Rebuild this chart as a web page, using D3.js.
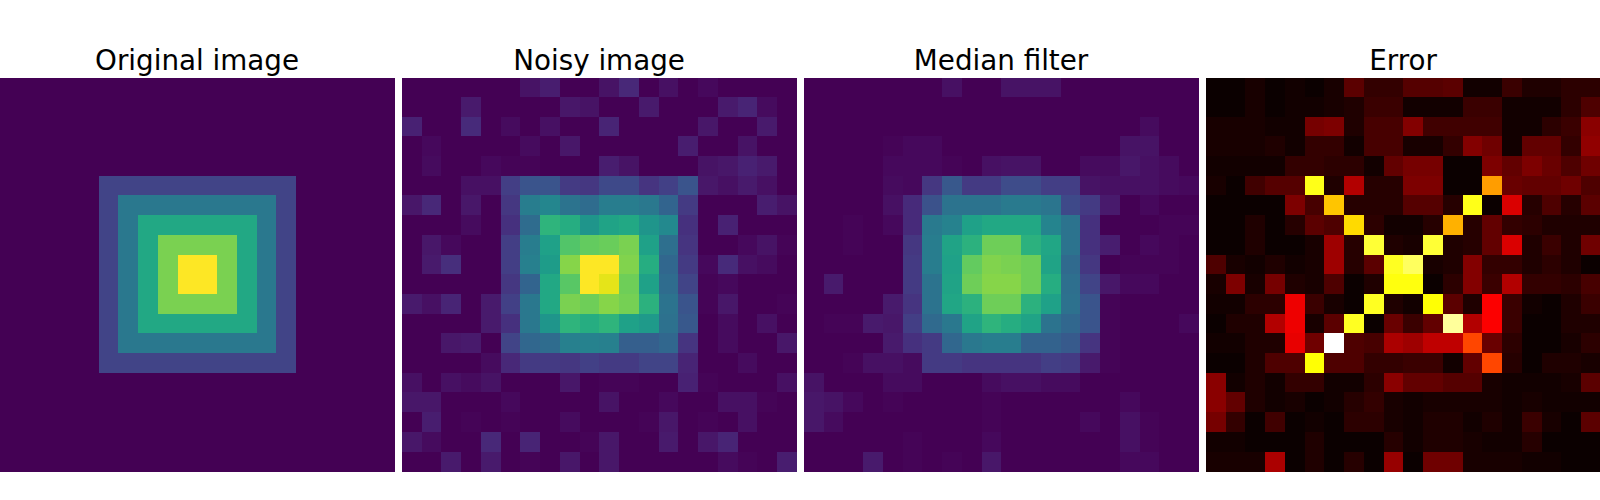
<!DOCTYPE html>
<html><head><meta charset="utf-8">
<script src="https://cdn.jsdelivr.net/npm/d3@7"></script>
<style>html,body{margin:0;padding:0;background:#fff;overflow:hidden}svg{display:block}</style>
</head><body><svg id="c" width="1600" height="500"></svg>
<script>
const titles = ["Original image","Noisy image","Median filter","Error"];
const original = [
[0,0,0,0,0,0,0,0,0,0,0,0,0,0,0,0,0,0,0,0],
[0,0,0,0,0,0,0,0,0,0,0,0,0,0,0,0,0,0,0,0],
[0,0,0,0,0,0,0,0,0,0,0,0,0,0,0,0,0,0,0,0],
[0,0,0,0,0,0,0,0,0,0,0,0,0,0,0,0,0,0,0,0],
[0,0,0,0,0,0,0,0,0,0,0,0,0,0,0,0,0,0,0,0],
[0,0,0,0,0,20,20,20,20,20,20,20,20,20,20,0,0,0,0,0],
[0,0,0,0,0,20,40,40,40,40,40,40,40,40,20,0,0,0,0,0],
[0,0,0,0,0,20,40,60,60,60,60,60,60,40,20,0,0,0,0,0],
[0,0,0,0,0,20,40,60,80,80,80,80,60,40,20,0,0,0,0,0],
[0,0,0,0,0,20,40,60,80,100,100,80,60,40,20,0,0,0,0,0],
[0,0,0,0,0,20,40,60,80,100,100,80,60,40,20,0,0,0,0,0],
[0,0,0,0,0,20,40,60,80,80,80,80,60,40,20,0,0,0,0,0],
[0,0,0,0,0,20,40,60,60,60,60,60,60,40,20,0,0,0,0,0],
[0,0,0,0,0,20,40,40,40,40,40,40,40,40,20,0,0,0,0,0],
[0,0,0,0,0,20,20,20,20,20,20,20,20,20,20,0,0,0,0,0],
[0,0,0,0,0,0,0,0,0,0,0,0,0,0,0,0,0,0,0,0],
[0,0,0,0,0,0,0,0,0,0,0,0,0,0,0,0,0,0,0,0],
[0,0,0,0,0,0,0,0,0,0,0,0,0,0,0,0,0,0,0,0],
[0,0,0,0,0,0,0,0,0,0,0,0,0,0,0,0,0,0,0,0],
[0,0,0,0,0,0,0,0,0,0,0,0,0,0,0,0,0,0,0,0]];
const noisy = [
[0,0,0,0,0,0,5,8,0,0,5,11,0,4,0,2,0,0,0,0],
[0,0,0,7,0,0,0,0,6,5,0,0,7,0,0,0,7,10,3,0],
[9,0,0,12,0,3,0,4,0,0,10,0,0,0,0,6,0,0,7,0],
[0,2,0,0,0,0,3,0,6,0,0,0,0,0,8,0,0,5,0,0],
[0,3,0,0,2,1,1,0,0,0,8,5,0,0,0,5,6,9,7,0],
[0,0,0,4,4,18,26,26,17,16,22,22,15,19,26,6,4,7,4,0],
[6,11,0,6,0,16,42,46,38,35,42,42,40,32,17,0,0,0,8,5],
[0,0,0,3,0,14,35,65,62,52,58,60,52,47,14,0,9,0,0,0],
[0,6,2,0,0,18,42,57,73,76,77,80,57,36,15,0,0,2,5,1],
[0,7,13,0,0,18,43,55,82,100,100,81,62,33,17,2,12,4,3,0],
[0,0,0,0,0,16,32,60,74,100,96,78,57,35,20,1,2,0,0,0],
[7,4,10,0,7,19,40,60,80,78,82,79,64,38,26,1,6,0,0,1],
[0,0,0,0,7,14,40,52,65,62,65,57,54,37,27,0,3,0,4,0],
[0,0,6,7,0,20,33,35,43,44,43,30,30,33,15,0,3,0,0,6],
[0,0,0,0,3,11,17,17,16,19,17,17,20,20,10,0,0,3,0,0],
[4,0,4,3,5,0,0,0,6,0,1,1,0,0,9,1,0,0,0,4],
[6,6,0,0,0,2,0,0,0,0,5,0,0,2,0,0,4,4,1,0],
[0,8,0,1,0,1,0,0,3,0,0,0,1,6,0,1,0,4,0,0],
[6,3,0,0,11,0,10,0,0,1,6,0,0,7,0,6,10,0,0,0],
[0,0,7,0,7,0,1,0,6,0,6,0,0,0,0,0,3,1,0,8]];
const median = [
[0,0,0,0,0,0,0,4,0,0,5,5,5,0,0,0,0,0,0,0],
[0,0,0,0,0,0,0,0,0,0,0,0,0,0,0,0,0,0,0,0],
[0,0,0,0,0,0,0,0,0,0,0,0,0,0,0,0,0,3,0,0],
[0,0,0,0,1,2,2,0,0,0,0,0,0,0,0,0,5,5,0,0],
[0,0,0,0,2,2,2,1,0,4,5,5,0,0,3,3,6,4,3,0],
[0,0,0,0,3,2,16,27,17,17,23,23,18,18,5,4,4,4,3,2],
[0,0,0,0,4,12,25,38,38,38,41,41,39,22,17,7,0,2,0,0],
[0,0,1,0,2,12,41,44,57,60,60,60,45,38,14,0,0,0,1,1],
[0,0,1,0,0,16,42,58,64,78,78,64,59,38,14,8,0,2,1,0],
[0,0,0,0,0,17,42,57,76,81,80,78,58,34,16,0,1,1,1,0],
[0,7,0,0,0,17,38,58,78,82,82,78,62,36,20,6,2,2,0,0],
[0,0,0,0,7,15,38,59,64,78,78,64,57,37,26,1,0,0,0,0],
[0,1,1,7,6,18,34,40,58,65,62,58,38,33,26,1,0,0,0,2],
[0,0,0,0,7,14,17,33,40,42,42,31,31,28,15,1,0,0,0,0],
[0,0,1,4,4,3,17,17,15,15,15,15,18,17,7,1,0,0,0,0],
[5,0,0,0,3,3,0,0,0,3,4,4,3,3,0,0,0,0,0,0],
[6,5,2,0,1,0,0,0,0,1,0,0,0,0,0,0,2,0,0,0],
[6,3,0,0,0,0,0,0,0,1,0,0,0,0,2,0,4,1,0,0],
[0,0,0,0,0,1,0,0,0,2,0,0,0,0,0,0,4,1,0,0],
[0,0,0,7,0,1,0,1,0,6,0,0,0,0,0,0,2,2,0,0]];
const errorMap = [
[0,0,2,0,1,0,2,12,6,6,11,11,12,1,1,7,3,3,5,5],
[0,0,2,0,1,1,2,3,7,7,1,1,1,7,7,1,1,1,5,10],
[2,2,2,1,1,16,17,3,9,9,18,8,8,8,8,1,1,5,7,19],
[2,2,2,3,1,6,6,1,9,9,2,2,6,18,15,1,13,13,6,20],
[1,1,1,1,6,6,5,5,1,13,16,16,0,0,17,13,17,14,10,15],
[2,0,8,11,11,77,3,25,4,4,17,17,0,0,60,14,13,13,15,10],
[0,0,0,0,17,9,66,4,4,4,11,11,4,77,0,31,4,10,4,12],
[0,0,3,0,4,12,10,69,5,1,1,4,63,4,13,6,5,3,3,3],
[0,0,3,0,0,2,22,4,80,3,2,80,3,4,13,31,3,7,3,15],
[10,2,1,3,1,2,22,4,12,78,84,2,3,18,6,6,3,5,3,0],
[2,17,2,16,3,2,10,0,3,76,76,0,5,18,7,25,6,6,5,9],
[1,1,5,5,34,7,2,0,78,3,1,75,12,3,36,7,1,0,3,7],
[0,3,3,25,34,2,12,78,0,14,7,13,90,25,36,7,0,0,3,3],
[1,1,3,3,33,15,100,10,9,24,22,27,27,47,14,5,0,0,2,5],
[0,0,3,10,10,75,10,10,6,6,7,7,1,13,47,4,0,3,3,2],
[19,1,3,1,6,6,1,1,5,19,13,13,11,11,2,1,1,1,2,12],
[19,13,3,1,2,0,1,4,6,2,1,2,2,2,2,1,2,1,1,1],
[16,6,0,8,0,1,0,5,5,2,1,3,3,1,3,1,7,2,0,12],
[1,1,0,0,0,3,0,0,0,4,1,3,3,2,1,1,4,0,0,0],
[2,2,2,24,0,3,0,4,0,21,0,15,15,2,2,2,1,1,0,0]];

const W = 394.9, STRIDE = 402, TOP = 77.25, H = 394, IMG_TOP = 78, IMG_BOTTOM = 472;
const panels = [original, noisy, median, errorMap];
const idx = d3.range(20);
const viridis = d3.scaleSequential(d3.interpolateViridis).domain([0,100]);
const hot = d3.scaleLinear()
  .domain([0,36.5,74.6,100])
  .range(["#0b0000","#ff0000","#ffff00","#ffffff"])
  .clamp(true);
const colorFns = [viridis, viridis, viridis, hot];

const svg = d3.select("#c");
panels.forEach((grid,p)=>{
  const x0 = p*STRIDE;
  const x = d3.scaleBand().domain(idx).range([x0,x0+W]);
  const y = d3.scaleBand().domain(idx).range([TOP,TOP+H]);
  const yEdge = k => k===0 ? IMG_TOP : k===20 ? IMG_BOTTOM : Math.round(TOP + k*y.step());
  const cells = grid.flatMap((row,r)=>row.map((v,c)=>({r,c,v})));
  svg.append("g").selectAll("rect").data(cells).join("rect")
    .attr("x",d=>Math.round(x(d.c)))
    .attr("y",d=>yEdge(d.r))
    .attr("width",d=>Math.round(x(d.c)+x.bandwidth())-Math.round(x(d.c)))
    .attr("height",d=>yEdge(d.r+1)-yEdge(d.r))
    .attr("fill",d=>colorFns[p](d.v))
    .attr("shape-rendering","crispEdges");
  svg.append("text")
    .attr("x",x0+W/2-0.4).attr("y",70)
    .attr("text-anchor","middle")
    .attr("font-family","DejaVu Sans")
    .attr("font-size",27.78)
    .attr("fill","#000")
    .text(titles[p]);
});
</script></body></html>
